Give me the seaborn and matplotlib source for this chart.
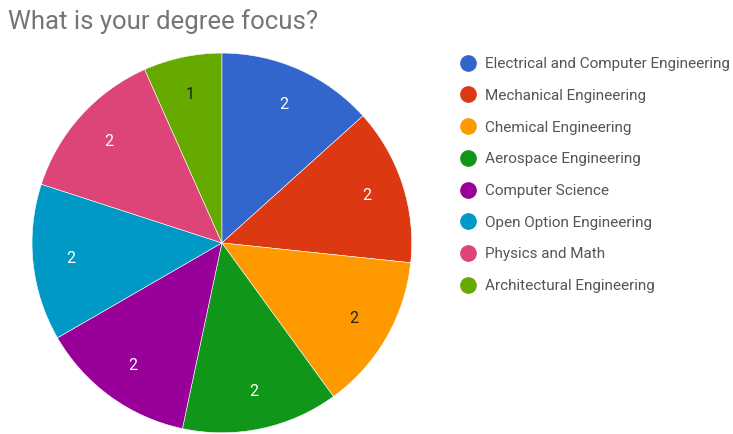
import matplotlib
matplotlib.use("Agg")
import matplotlib.pyplot as plt
import seaborn as sns
from matplotlib.lines import Line2D

# data
majors = ['Electrical and Computer Engineering', 'Mechanical Engineering',
          'Chemical Engineering', 'Aerospace Engineering', 'Computer Science',
          'Open Option Engineering', 'Physics and Math', 'Architectural Engineering']
counts = [2, 2, 2, 2, 2, 2, 2, 1]
slice_colors = ['#3366cc', '#dc3912', '#ff9900', '#109618',
                '#990099', '#0099c6', '#dd4477', '#66aa00']
label_colors = ['white', 'white', '#222222', 'white',
                'white', 'white', 'white', '#222222']

sns.set_theme(style='white')
plt.rcParams['font.family'] = ['Roboto', 'DejaVu Sans']
palette = sns.color_palette(slice_colors)

fig = plt.figure(figsize=(7.33, 4.34), dpi=100)
ax = fig.add_axes([0.0437, 0.0023, 0.518, 0.876])

wedges, texts = ax.pie(counts, colors=palette, startangle=90, counterclock=False,
                       labels=[str(c) for c in counts], labeldistance=0.8,
                       wedgeprops=dict(linewidth=0.4, edgecolor='white'),
                       textprops=dict(fontsize=11.5, ha='center', va='center'))
for t, c in zip(texts, label_colors):
    t.set_color(c)
ax.set_xlim(-1, 1)
ax.set_ylim(-1, 1)
ax.set_aspect('equal')

fig.text(8 / 733, 1 - 22 / 434, 'What is your degree focus?', fontsize=18.5,
         color='#757575', ha='left', va='center')

handles = [Line2D([], [], marker='o', linestyle='none', markersize=11,
                  markerfacecolor=c, markeredgecolor=c) for c in palette]
fig.legend(handles, majors, loc='upper left', bbox_to_anchor=(453 / 733, 1 - 51 / 434),
           frameon=False, fontsize=11, labelcolor='#555555', handletextpad=0.5,
           labelspacing=1.16, borderaxespad=0, handlelength=1.2)

fig.savefig('out.png', dpi=100)
